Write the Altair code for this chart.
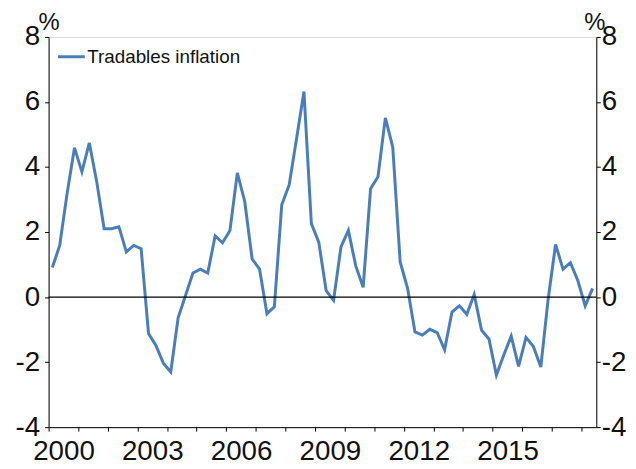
import altair as alt
import pandas as pd

# Quarterly data, 2000Q1 - 2018Q2
years = [y for y in range(2000, 2019) for q in range(1, 5)][:74]
qnums = [q for y in range(2000, 2019) for q in range(1, 5)][:74]
tradables = [0.91, 1.59, 3.19, 4.59, 3.85, 4.74, 3.55, 2.10, 2.10, 2.16,
             1.39, 1.59, 1.49, -1.12, -1.49, -2.03, -2.30, -0.64, 0.05, 0.74,
             0.86, 0.74, 1.88, 1.67, 2.05, 3.82, 2.94, 1.17, 0.86, -0.51,
             -0.30, 2.84, 3.45, 4.87, 6.32, 2.26, 1.69, 0.20, -0.10, 1.54,
             2.05, 0.96, 0.30, 3.33, 3.70, 5.51, 4.61, 1.08, 0.27, -1.07,
             -1.17, -0.99, -1.09, -1.62, -0.46, -0.27, -0.53, 0.08, -1.02, -1.29,
             -2.40, -1.78, -1.20, -2.13, -1.24, -1.52, -2.15, -0.05, 1.62, 0.86,
             1.06, 0.51, -0.27, 0.27]
series_name = "Tradables inflation"
year_ticks = list(range(2000, 2019))
y_ticks = [-4, -2, 0, 2, 4, 6, 8]

df = pd.DataFrame({
    "t": [y + (q - 0.5) / 4 for y, q in zip(years, qnums)],
    "value": tradables,
    "series": [series_name] * len(tradables),
})
zero_df = pd.DataFrame({"zero": [0]})

FONT = "Liberation Sans"
BLUE = "#4a7ebb"

xscale = alt.Scale(domain=[2000, 2018.5], nice=False, zero=False)
yscale = alt.Scale(domain=[-4, 8], nice=False, zero=False)

common_axis = dict(domainColor="#000", domainWidth=1, tickColor="#000", tickWidth=1,
                   tickSize=4, labelColor="#111", labelFont=FONT, labelFontSize=28,
                   grid=False)

x_axis = alt.Axis(values=year_ticks,
                  labelExpr="((datum.value - 2000) % 3 == 0 && datum.value < 2018) ? toString(datum.value) : ''",
                  labelOffset=15, labelFlush=False, labelOverlap=False, labelPadding=7,
                  title=None, **common_axis)

title_style = dict(titleAngle=0, titleY=-8, titleAlign="center",
                   titleBaseline="alphabetic", titleFont=FONT, titleFontSize=24,
                   titleFontWeight="normal", titleColor="#111")

y_label_expr = "toString(datum.value)"  # plain hyphen minus, as in the reference

y_left = alt.Axis(values=y_ticks, orient="left", labelPadding=5, title="%",
                  labelExpr=y_label_expr, titleX=0, **title_style, **common_axis)
y_right = alt.Axis(values=y_ticks, orient="right", labelPadding=1, title="%",
                   labelExpr=y_label_expr, titleX=-2, **title_style, **common_axis)

line = alt.Chart(df).mark_line(strokeWidth=3).encode(
    x=alt.X("t:Q", scale=xscale, axis=x_axis),
    y=alt.Y("value:Q", scale=yscale, axis=y_left),
    color=alt.Color("series:N",
                    scale=alt.Scale(domain=[series_name], range=[BLUE]),
                    legend=alt.Legend(orient="none", legendX=8, legendY=5, title=None,
                                      symbolType="stroke", symbolSize=729,
                                      symbolStrokeWidth=3, labelFont=FONT,
                                      labelFontSize=19, labelColor="#111",
                                      labelOffset=1, padding=0)),
)

zero = alt.Chart(zero_df).mark_rule(color="#000", strokeWidth=1.2).encode(
    y=alt.Y("zero:Q", scale=yscale, axis=y_right),
)

chart = alt.layer(line, zero).resolve_axis(y="independent").properties(
    width=553, height=394,
    padding={"left": 41, "top": 27, "right": 32, "bottom": 37},
    autosize="none",
).configure_view(stroke=None).configure(background="white")

chart.save("out.html", embed_options={"renderer": "svg", "actions": False})
